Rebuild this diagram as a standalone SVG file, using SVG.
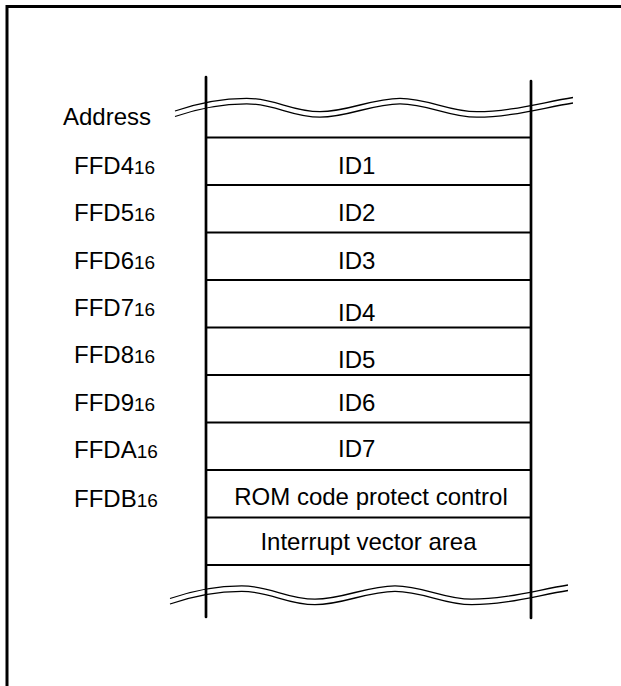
<svg xmlns="http://www.w3.org/2000/svg" width="621" height="686" viewBox="0 0 621 686">
<style>
text{font-family:"Liberation Sans",Arial,sans-serif;font-size:24px;fill:#000}
.sub{font-size:19px}
.frame{fill:none;stroke:#000;stroke-width:3}
.rail{fill:none;stroke:#000;stroke-width:2.7;stroke-linecap:round}
.row{fill:none;stroke:#000;stroke-width:2}
.wave{fill:none;stroke:#000;stroke-width:1.3}
.mid{text-anchor:middle}
</style>
<defs>
<path id="w" d="M175,111 C195,104 220,98.3 246.7,98.3 C275,98.3 292,111.7 320,111.7 C348,111.7 372,98.3 400,98.3 C428,98.3 449,111.7 476.7,111.7 C510,111.7 540,103 573,97.5"/>
</defs>
<path class="frame" d="M7,686 V6.5 H621"/>
<g id="rails">
<line class="rail" x1="206" y1="77" x2="206" y2="617"/>
<line class="rail" x1="531" y1="81" x2="531" y2="618"/>
</g>
<g id="break-top">
<use href="#w" class="wave"/>
<use href="#w" class="wave" transform="translate(0,5.5)"/>
</g>
<g id="break-bottom" transform="translate(-5,487.5)">
<use href="#w" class="wave"/>
<use href="#w" class="wave" transform="translate(0,5.5)"/>
</g>
<text x="63" y="125">Address</text>
<g id="row-id1">
<path class="row" d="M206,137.5 H531 M206,185 H531"/>
<text x="74" y="174">FFD4<tspan class="sub">16</tspan></text>
<text x="338" y="174">ID1</text>
</g>
<g id="row-id2">
<path class="row" d="M206,232.5 H531"/>
<text x="74" y="221">FFD5<tspan class="sub">16</tspan></text>
<text x="338" y="221">ID2</text>
</g>
<g id="row-id3">
<path class="row" d="M206,280 H531"/>
<text x="74" y="268.5">FFD6<tspan class="sub">16</tspan></text>
<text x="338" y="269">ID3</text>
</g>
<g id="row-id4">
<path class="row" d="M206,327.5 H531"/>
<text x="74" y="315.5">FFD7<tspan class="sub">16</tspan></text>
<text x="338" y="320.7">ID4</text>
</g>
<g id="row-id5">
<path class="row" d="M206,375 H531"/>
<text x="74" y="363.3">FFD8<tspan class="sub">16</tspan></text>
<text x="338" y="368.3">ID5</text>
</g>
<g id="row-id6">
<path class="row" d="M206,422.5 H531"/>
<text x="74" y="410.5">FFD9<tspan class="sub">16</tspan></text>
<text x="338" y="411">ID6</text>
</g>
<g id="row-id7">
<path class="row" d="M206,470 H531"/>
<text x="74" y="458.3">FFDA<tspan class="sub">16</tspan></text>
<text x="338" y="457.3">ID7</text>
</g>
<g id="row-rom">
<path class="row" d="M206,517.5 H531"/>
<text x="74" y="507">FFDB<tspan class="sub">16</tspan></text>
<text class="mid" x="371" y="505">ROM code protect control</text>
</g>
<g id="row-vector">
<path class="row" d="M206,565 H531"/>
<text class="mid" x="368.5" y="550">Interrupt vector area</text>
</g>
</svg>
